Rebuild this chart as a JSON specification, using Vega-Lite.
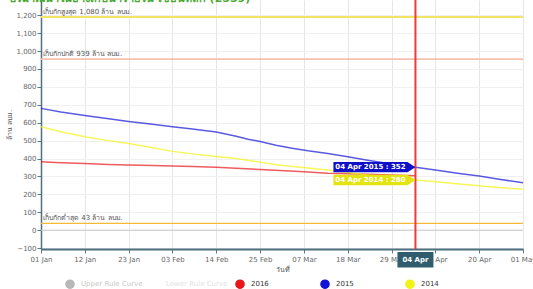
{
  "$schema": "https://vega.github.io/schema/vega-lite/v6.json",
  "autosize": {"type": "none"},
  "width": 482,
  "height": 249,
  "padding": {"left": 41, "top": 0, "right": 10, "bottom": 40},
  "background": "white",
  "config": {
    "font": "DejaVu Sans",
    "view": {"stroke": null},
    "axis": {
      "labelFontSize": 7,
      "labelColor": "#666",
      "labelPadding": 2,
      "tickSize": 4,
      "tickColor": "#5a7a8a",
      "domainColor": "#4d6f80",
      "titleFontSize": 7,
      "titleFontWeight": "normal",
      "titleColor": "#555"
    },
    "axisX": {"domainWidth": 2, "grid": true, "gridColor": "#e6e6e6", "labelOverlap": false, "labelFlush": false, "titlePadding": 3},
    "axisY": {"domainWidth": 1.5, "grid": true, "gridColor": "#f0f0f0", "labelPadding": 1, "titlePadding": 3, "labelOverlap": false}
  },
  "title": {
    "text": "ปริมาณน้ำในอ่างเก็บน้ำรายวัน เขื่อนหลัก (2559)",
    "anchor": "start",
    "fontSize": 11,
    "fontWeight": "bold",
    "color": "#4aa832",
    "baseline": "bottom",
    "offset": 0,
    "dx": 3,
    "dy": 16
  },
  "datasets": {
    "series": [
      {"date": "2016-01-01", "series": "2016", "value": 382},
      {"date": "2016-01-06", "series": "2016", "value": 377},
      {"date": "2016-01-12", "series": "2016", "value": 372},
      {"date": "2016-01-18", "series": "2016", "value": 367},
      {"date": "2016-01-23", "series": "2016", "value": 364},
      {"date": "2016-01-29", "series": "2016", "value": 361},
      {"date": "2016-02-03", "series": "2016", "value": 359},
      {"date": "2016-02-08", "series": "2016", "value": 356},
      {"date": "2016-02-14", "series": "2016", "value": 352},
      {"date": "2016-02-19", "series": "2016", "value": 346},
      {"date": "2016-02-25", "series": "2016", "value": 339},
      {"date": "2016-03-01", "series": "2016", "value": 333},
      {"date": "2016-03-07", "series": "2016", "value": 326},
      {"date": "2016-03-13", "series": "2016", "value": 318},
      {"date": "2016-03-18", "series": "2016", "value": 315},
      {"date": "2016-03-23", "series": "2016", "value": 312},
      {"date": "2016-03-29", "series": "2016", "value": 308},
      {"date": "2016-04-04", "series": "2016", "value": 304},
      {"date": "2016-01-01", "series": "2015", "value": 680},
      {"date": "2016-01-06", "series": "2015", "value": 660},
      {"date": "2016-01-12", "series": "2015", "value": 640},
      {"date": "2016-01-18", "series": "2015", "value": 622},
      {"date": "2016-01-23", "series": "2015", "value": 607},
      {"date": "2016-01-29", "series": "2015", "value": 591},
      {"date": "2016-02-03", "series": "2015", "value": 577},
      {"date": "2016-02-08", "series": "2015", "value": 565},
      {"date": "2016-02-14", "series": "2015", "value": 548},
      {"date": "2016-02-19", "series": "2015", "value": 524},
      {"date": "2016-02-22", "series": "2015", "value": 508},
      {"date": "2016-02-25", "series": "2015", "value": 495},
      {"date": "2016-02-29", "series": "2015", "value": 474},
      {"date": "2016-03-04", "series": "2015", "value": 458},
      {"date": "2016-03-08", "series": "2015", "value": 443},
      {"date": "2016-03-13", "series": "2015", "value": 428},
      {"date": "2016-03-18", "series": "2015", "value": 410},
      {"date": "2016-03-23", "series": "2015", "value": 391},
      {"date": "2016-03-29", "series": "2015", "value": 370},
      {"date": "2016-04-04", "series": "2015", "value": 352},
      {"date": "2016-04-09", "series": "2015", "value": 336},
      {"date": "2016-04-15", "series": "2015", "value": 317},
      {"date": "2016-04-20", "series": "2015", "value": 302},
      {"date": "2016-04-25", "series": "2015", "value": 284},
      {"date": "2016-05-01", "series": "2015", "value": 265},
      {"date": "2016-01-01", "series": "2014", "value": 577},
      {"date": "2016-01-06", "series": "2014", "value": 550},
      {"date": "2016-01-12", "series": "2014", "value": 522},
      {"date": "2016-01-18", "series": "2014", "value": 500},
      {"date": "2016-01-23", "series": "2014", "value": 484},
      {"date": "2016-01-29", "series": "2014", "value": 460},
      {"date": "2016-02-03", "series": "2014", "value": 440},
      {"date": "2016-02-08", "series": "2014", "value": 426},
      {"date": "2016-02-14", "series": "2014", "value": 412},
      {"date": "2016-02-19", "series": "2014", "value": 400},
      {"date": "2016-02-25", "series": "2014", "value": 380},
      {"date": "2016-02-29", "series": "2014", "value": 365},
      {"date": "2016-03-06", "series": "2014", "value": 352},
      {"date": "2016-03-13", "series": "2014", "value": 336},
      {"date": "2016-03-18", "series": "2014", "value": 322},
      {"date": "2016-03-23", "series": "2014", "value": 308},
      {"date": "2016-03-29", "series": "2014", "value": 294},
      {"date": "2016-04-04", "series": "2014", "value": 280},
      {"date": "2016-04-09", "series": "2014", "value": 270},
      {"date": "2016-04-15", "series": "2014", "value": 258},
      {"date": "2016-04-20", "series": "2014", "value": 248},
      {"date": "2016-04-25", "series": "2014", "value": 238},
      {"date": "2016-05-01", "series": "2014", "value": 229}
    ],
    "levels": [
      {"level": "max", "date": "2016-01-01", "value": 1190, "label": "เก็บกักสูงสุด 1,080 ล้าน ลบม."},
      {"level": "normal", "date": "2016-01-01", "value": 955, "label": "เก็บกักปกติ 939 ล้าน ลบม."},
      {"level": "min", "date": "2016-01-01", "value": 38, "label": "เก็บกักต่ำสุด 43 ล้าน ลบม."},
      {"level": "zero", "date": "2016-01-01", "value": 0, "label": ""}
    ],
    "tips": [
      {"date": "2016-04-04", "series": "2015", "value": 352, "label": "04 Apr 2015 : 352"},
      {"date": "2016-04-04", "series": "2014", "value": 280, "label": "04 Apr 2014 : 280"}
    ],
    "cursor": [
      {"date": "2016-04-04", "label": "04 Apr"}
    ]
  },
  "layer": [
    {
      "data": {"name": "series"},
      "mark": {"type": "line", "strokeWidth": 1.5, "opacity": 0.7},
      "encoding": {
        "x": {
          "field": "date", "type": "temporal",
          "scale": {"domain": ["2016-01-01", "2016-05-01"]},
          "axis": {"title": "วันที่", "format": "%d %b", "values": ["2016-01-01", "2016-01-12", "2016-01-23", "2016-02-03", "2016-02-14", "2016-02-25", "2016-03-07", "2016-03-18", "2016-03-29", "2016-04-09", "2016-04-20", "2016-05-01"]}
        },
        "y": {
          "field": "value", "type": "quantitative",
          "scale": {"domain": [-105, 1285], "nice": false, "zero": false},
          "axis": {"title": "ล้าน ลบม.", "format": ",.0f", "values": [-100, 0, 100, 200, 300, 400, 500, 600, 700, 800, 900, 1000, 1100, 1200]}
        },
        "color": {
          "field": "series",
          "type": "nominal",
          "scale": {
            "domain": ["Upper Rule Curve", "Lower Rule Curve", "2016", "2015", "2014"],
            "range": ["#b8b8b8", "#ffffff", "#e8161b", "#1414d4", "#f2f214"]
          },
          "legend": {
            "orient": "none",
            "legendX": 24,
            "legendY": 279,
            "direction": "horizontal",
            "columns": 5,
            "gridAlign": "all",
            "title": null,
            "symbolType": "circle",
            "symbolSize": 70,
            "symbolOpacity": 1,
            "symbolStrokeWidth": 1,
            "labelFontSize": 7,
            "labelLimit": 200,
            "columnPadding": 5,
            "labelOffset": 6,
            "encode": {
              "labels": {
                "update": {
                  "fill": {"signal": "datum.value == 'Upper Rule Curve' ? '#c8c8c8' : datum.value == 'Lower Rule Curve' ? '#e2e2e2' : '#333333'"},
                  "width": {"value": 70}
                }
              },
              "symbols": {
                "update": {
                  "fill": {"signal": "datum.value == 'Upper Rule Curve' ? '#b8b8b8' : datum.value == 'Lower Rule Curve' ? '#ffffff' : datum.value == '2014' ? '#f2f214' : datum.value == '2016' ? '#e8161b' : '#1414d4'"},
                  "stroke": {"signal": "datum.value == 'Upper Rule Curve' ? '#b8b8b8' : datum.value == 'Lower Rule Curve' ? '#bdbdbd' : datum.value == '2014' ? '#c8c800' : datum.value == '2016' ? '#e8161b' : '#1414d4'"},
                  "strokeWidth": {"value": 1.2},
                  "opacity": {"value": 1}
                }
              }
            }
          }
        }
      }
    },
    {
      "data": {"name": "levels"},
      "mark": {"type": "rule"},
      "encoding": {
        "y": {"field": "value", "type": "quantitative", "axis": {"title": "ล้าน ลบม.", "format": ",.0f", "values": [-100, 0, 100, 200, 300, 400, 500, 600, 700, 800, 900, 1000, 1100, 1200]}},
        "color": {
          "field": "level",
          "type": "nominal",
          "scale": {"domain": ["max", "normal", "min", "zero"], "range": ["#f3e463", "#f6bfae", "#f5b935", "#c8c8c8"]},
          "legend": null
        },
        "strokeWidth": {
          "field": "level",
          "type": "nominal",
          "scale": {"domain": ["max", "normal", "min", "zero"], "range": [2, 1, 2, 1]},
          "legend": null
        }
      }
    },
    {
      "data": {"name": "levels"},
      "mark": {"type": "text", "align": "left", "baseline": "bottom", "dx": 2, "dy": -2, "fontSize": 7, "color": "#555"},
      "encoding": {
        "x": {"field": "date", "type": "temporal", "axis": {"title": "วันที่", "format": "%d %b", "values": ["2016-01-01", "2016-01-12", "2016-01-23", "2016-02-03", "2016-02-14", "2016-02-25", "2016-03-07", "2016-03-18", "2016-03-29", "2016-04-09", "2016-04-20", "2016-05-01"]}},
        "y": {"field": "value", "type": "quantitative", "axis": {"title": "ล้าน ลบม.", "format": ",.0f", "values": [-100, 0, 100, 200, 300, 400, 500, 600, 700, 800, 900, 1000, 1100, 1200]}},
        "text": {"field": "label"}
      }
    },
    {
      "data": {"name": "cursor"},
      "mark": {"type": "rule", "color": "#f03a3a", "strokeWidth": 2},
      "encoding": {"x": {"field": "date", "type": "temporal", "axis": {"title": "วันที่", "format": "%d %b", "values": ["2016-01-01", "2016-01-12", "2016-01-23", "2016-02-03", "2016-02-14", "2016-02-25", "2016-03-07", "2016-03-18", "2016-03-29", "2016-04-09", "2016-04-20", "2016-05-01"]}}}
    },
    {
      "data": {"name": "tips"},
      "mark": {"type": "point", "filled": true, "opacity": 1, "strokeWidth": 0, "shape": "M0,0 L-0.2,-0.13 L-2.05,-0.13 L-2.05,0.13 L-0.2,0.13 Z", "size": 6400},
      "encoding": {
        "x": {"field": "date", "type": "temporal", "axis": {"title": "วันที่", "format": "%d %b", "values": ["2016-01-01", "2016-01-12", "2016-01-23", "2016-02-03", "2016-02-14", "2016-02-25", "2016-03-07", "2016-03-18", "2016-03-29", "2016-04-09", "2016-04-20", "2016-05-01"]}},
        "y": {"field": "value", "type": "quantitative", "axis": {"title": "ล้าน ลบม.", "format": ",.0f", "values": [-100, 0, 100, 200, 300, 400, 500, 600, 700, 800, 900, 1000, 1100, 1200]}},
        "fill": {
          "field": "series",
          "type": "nominal",
          "scale": {"domain": ["2015", "2014"], "range": ["#1010c8", "#e4e410"]},
          "legend": null
        }
      }
    },
    {
      "data": {"name": "tips"},
      "mark": {"type": "text", "align": "center", "baseline": "middle", "dx": -45, "fontSize": 7, "fontWeight": "bold", "color": "white"},
      "encoding": {
        "x": {"field": "date", "type": "temporal", "axis": {"title": "วันที่", "format": "%d %b", "values": ["2016-01-01", "2016-01-12", "2016-01-23", "2016-02-03", "2016-02-14", "2016-02-25", "2016-03-07", "2016-03-18", "2016-03-29", "2016-04-09", "2016-04-20", "2016-05-01"]}},
        "y": {"field": "value", "type": "quantitative", "axis": {"title": "ล้าน ลบม.", "format": ",.0f", "values": [-100, 0, 100, 200, 300, 400, 500, 600, 700, 800, 900, 1000, 1100, 1200]}},
        "text": {"field": "label"}
      }
    },
    {
      "data": {"name": "cursor"},
      "mark": {"type": "point", "filled": true, "opacity": 1, "strokeWidth": 0, "color": "#2f5d6e", "shape": "M-0.9,0.15 L0.9,0.15 L0.9,0.92 L-0.9,0.92 Z", "size": 1600},
      "encoding": {
        "x": {"field": "date", "type": "temporal", "axis": {"title": "วันที่", "format": "%d %b", "values": ["2016-01-01", "2016-01-12", "2016-01-23", "2016-02-03", "2016-02-14", "2016-02-25", "2016-03-07", "2016-03-18", "2016-03-29", "2016-04-09", "2016-04-20", "2016-05-01"]}},
        "y": {"value": "height"}
      }
    },
    {
      "data": {"name": "cursor"},
      "mark": {"type": "text", "align": "center", "baseline": "middle", "dy": 11, "fontSize": 7, "fontWeight": "bold", "color": "white"},
      "encoding": {
        "x": {"field": "date", "type": "temporal", "axis": {"title": "วันที่", "format": "%d %b", "values": ["2016-01-01", "2016-01-12", "2016-01-23", "2016-02-03", "2016-02-14", "2016-02-25", "2016-03-07", "2016-03-18", "2016-03-29", "2016-04-09", "2016-04-20", "2016-05-01"]}},
        "y": {"value": "height"},
        "text": {"field": "label"}
      }
    }
  ],
  "resolve": {"scale": {"color": "independent", "strokeWidth": "independent", "fill": "independent"}}
}
